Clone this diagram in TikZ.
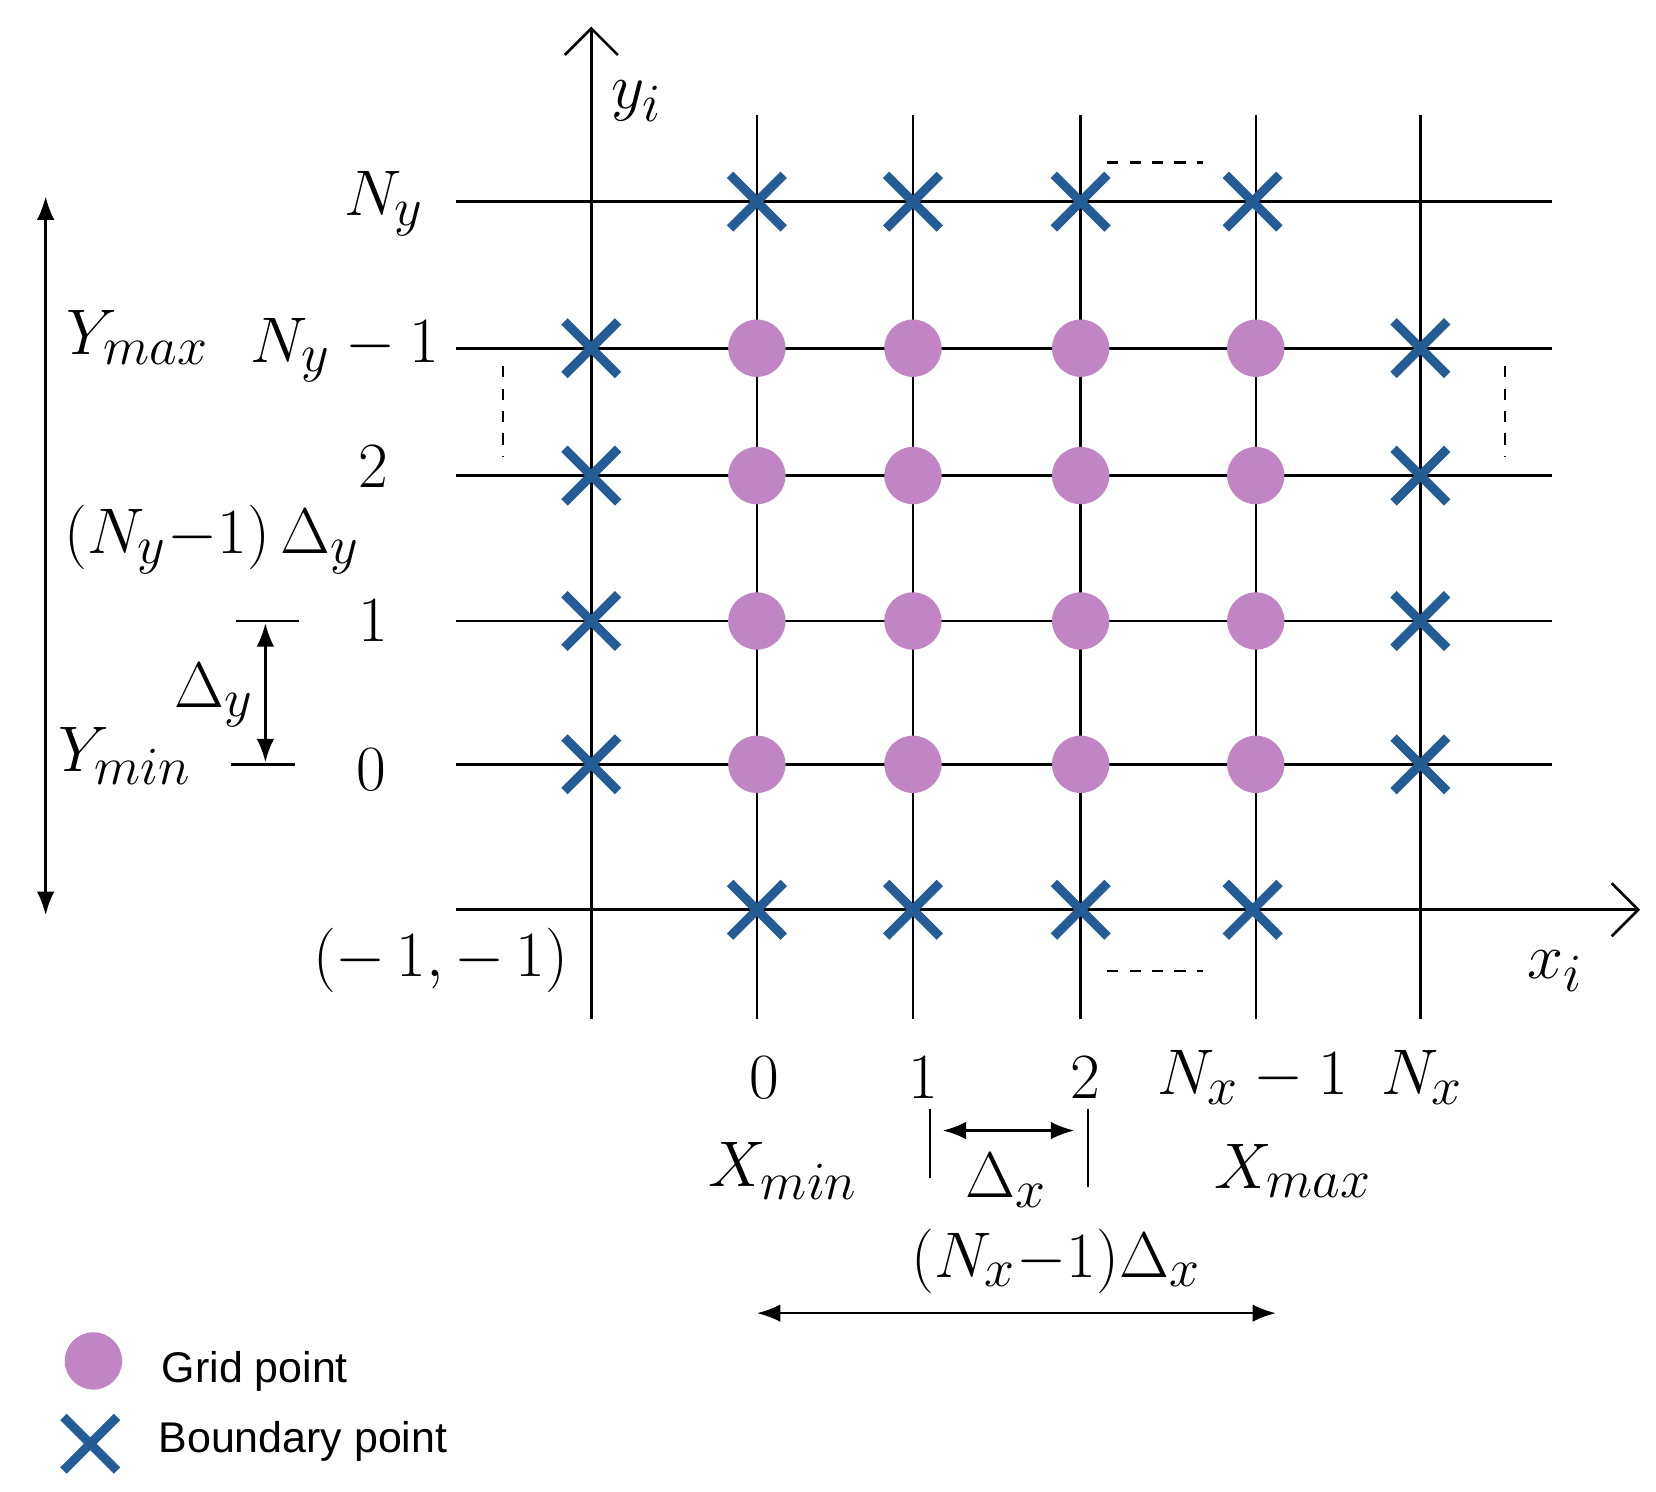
\documentclass[tikz,border=0pt]{standalone}
\usepackage{amsmath}
\usepackage{fontspec}
\setsansfont{Liberation Sans}
\usetikzlibrary{positioning,calc,arrows.meta,shapes.misc}
\definecolor{gridpt}{RGB}{193,132,196}
\definecolor{bndpt}{RGB}{36,92,150}
\tikzset{
  lbl/.style={font=\fontsize{19}{22}\selectfont, inner sep=1pt},
  gp/.style={circle, fill=gridpt, minimum size=0.54cm, inner sep=0pt},
  bp/.style={cross out, draw=bndpt, line width=0.085cm, minimum size=0.42cm, inner sep=0pt},
  axis/.style={line width=0.7pt},
  dim/.style={line width=0.7pt, {Latex[length=2.2mm]}-{Latex[length=2.2mm]}},
  leg/.style={font=\sffamily\fontsize{11.5}{14}\selectfont, anchor=west},
}
\begin{document}
\begin{tikzpicture}[x=0.01cm, y=-0.01cm]
	\useasboundingbox (0,0) rectangle (1560,1405);
	% grid lines
	\foreach \gx/\nm in {713/c0, 860/c1, 1018/c2, 1183/c3, 1338/c4}
		\draw[axis] (\gx,108) coordinate (\nm t) -- (\gx,960) coordinate (\nm b);
	\foreach \gy/\nm in {190/rt, 328/r3, 448/r2, 585/r1, 720/r0}
		\draw[axis] (430,\gy) coordinate (\nm l) -- (1462,\gy) coordinate (\nm r);
	\coordinate (xl) at (430,857);
	\coordinate (xr) at (1545,857);
	\coordinate (yb) at (557,960);
	\coordinate (yt) at (557,25);
	\draw[axis, -{Straight Barb[length=2.5mm]}] (xl) -- (xr);
	\draw[axis, -{Straight Barb[length=2.5mm]}] (yb) -- (yt);
	\node[lbl] (yi) at (600,95) {$y_i$};
	\node[lbl] (xi) at (1465,915) {$x_i$};

	% grid points
	\foreach \gx in {713,860,1018,1183}
		\foreach \gy in {328,448,585,720}
			\node[gp] (g\gx-\gy) at (\gx,\gy) {};
	% boundary points
	\foreach \gx in {713,860,1018,1180} {
		\node[bp] (bt\gx) at (\gx,190) {};
		\node[bp] (bb\gx) at (\gx,857) {};
	}
	\foreach \gy in {328,448,585,720} {
		\node[bp] (bl\gy) at (557,\gy) {};
		\node[bp] (br\gy) at (1338,\gy) {};
	}

	% ellipses
	\draw[dashed, line width=0.6pt] (1043,153) -- (1133,153);
	\draw[dashed, line width=0.6pt] (1043,915) -- (1133,915);
	\draw[dashed, line width=0.6pt] (474,345) -- (474,430);
	\draw[dashed, line width=0.6pt] (1418,345) -- (1418,430);

	% row labels
	\node[lbl] (ny) at (362,192) {$N_y$};
	\node[lbl] (ny1) at (325,330) {$N_y-1$};
	\node[lbl] (n2) at (352,440) {$2$};
	\node[lbl] (n1) at (352,585) {$1$};
	\node[lbl] (n0) at (350,725) {$0$};
	\node[lbl] (corner) at (415,905) {$(-\,1,-\,1)$};

	% column labels
	\node[lbl] (m0) at (720,1015) {$0$};
	\node[lbl] (m1) at (870,1015) {$1$};
	\node[lbl] (m2) at (1022,1015) {$2$};
	\node[lbl] (mx1) at (1180,1015) {$N_x-1$};
	\node[lbl] (mx) at (1340,1015) {$N_x$};
	\node[lbl] (xmin) at (738,1103) {$X_{min}$};
	\node[lbl] (xmax) at (1218,1103) {$X_{max}$};
	\node[lbl] (dx) at (948,1112) {$\Delta_x$};
	\node[lbl] (lx) at (995,1188) {$(N_x{-}1)\Delta_x$};
	\coordinate (tk1a) at (876,1045); \coordinate (tk1b) at (876,1110);
	\coordinate (tk2a) at (1025,1045); \coordinate (tk2b) at (1025,1118);
	\draw[axis] (tk1a) -- (tk1b);
	\draw[axis] (tk2a) -- (tk2b);
	\coordinate (dxl) at (888,1065); \coordinate (dxr) at (1012,1065);
	\draw[dim] (dxl) -- (dxr);
	\coordinate (lxl) at (713,1237); \coordinate (lxr) at (1202,1237);
	\draw[dim] (lxl) -- (lxr);

	% left dimensions
	\coordinate (lyt) at (43,185); \coordinate (lyb) at (43,862);
	\draw[dim] (lyt) -- (lyb);
	\node[lbl] (ymax) at (130,318) {$Y_{max}$};
	\node[lbl] (ly) at (200,508) {$(N_y{-}1)\,\Delta_y$};
	\node[lbl] (dy) at (202,655) {$\Delta_y$};
	\node[lbl] (ymin) at (118,712) {$Y_{min}$};
	\coordinate (t1a) at (222,585); \coordinate (t1b) at (282,585);
	\coordinate (t0a) at (218,720); \coordinate (t0b) at (278,720);
	\draw[axis] (t1a) -- (t1b);
	\draw[axis] (t0a) -- (t0b);
	\coordinate (dyt) at (250,587); \coordinate (dyb) at (250,718);
	\draw[dim] (dyt) -- (dyb);

	% legend
	\node[gp] (lgp) at (88,1282) {};
	\node[bp] (lbp) at (85,1360) {};
	\node[leg] (lgpt) at (140,1292) {Grid point};
	\node[leg] (lbpt) at (137,1358) {Boundary point};
\end{tikzpicture}
\end{document}
